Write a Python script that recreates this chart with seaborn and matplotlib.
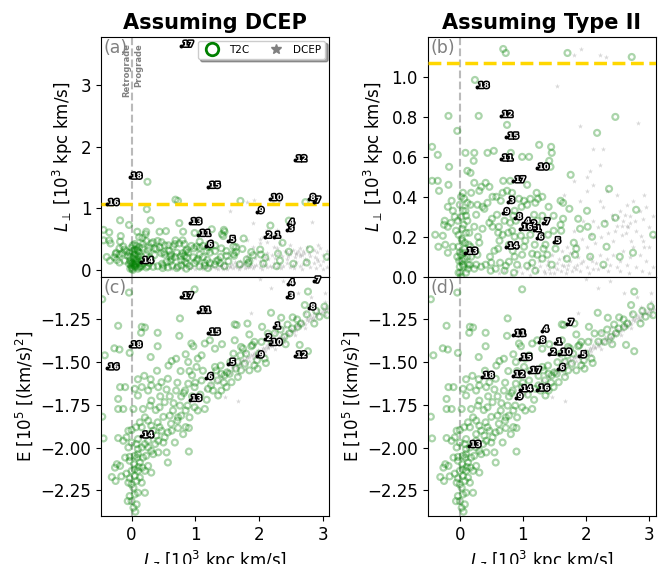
import matplotlib
matplotlib.use("Agg")
import matplotlib.pyplot as plt
import matplotlib.patheffects as pe
from matplotlib.lines import Line2D
import pandas as pd
import seaborn as sns

plt.rcParams["font.family"] = ["DejaVu Sans"]
plt.rcParams["mathtext.fontset"] = "dejavusans"
plt.rcParams["xtick.labelsize"] = 12
plt.rcParams["ytick.labelsize"] = 12
plt.rcParams["axes.labelsize"] = 12

# ---------------- T2C sample: Lz vs L_perp ----------------
t2c_lz_top = [
    0.69, 0.73, 1.71, 2.73, 0.24, -0.18, 0.30, 2.47, -0.04, 0.75,
    2.18, -0.44, -0.35, 1.26, 1.45, 1.46, 0.09, 0.23, 0.44, 0.54,
    0.81, 0.99, 1.10, 1.42, 1.44, 0.22, -0.17, 0.12, 0.17, -0.44,
    -0.35, -0.18, -0.33, 1.76, 2.37, 0.69, 0.80, 1.07, 0.23, 0.34,
    0.41, 0.47, 0.75, 0.83, 0.52, 0.58, 0.94, 0.65, -0.13, 0.02,
    0.07, 0.12, 0.17, 0.28, 0.36, 0.44, 0.68, 1.02, 1.12, 1.22,
    1.24, 1.07, 1.20, 1.31, 1.41, 1.60, 1.64, 1.74, 2.02, 2.80,
    2.47, 1.64, 1.88, 1.60, 1.61, 1.91, 2.03, 2.10, 2.30, 2.33,
    2.75, 3.07, 1.81, 1.85, 1.52, 1.36, 1.33, 1.39, 1.15, 1.19,
    1.02, 0.99, 0.84, 0.78, 0.87, 0.91, 0.78, 0.64, 0.71, 0.50,
    0.48, 0.55, 0.61, 0.63, 0.68, 0.61, 0.77, 0.83, 0.80, 0.87,
    0.87, 1.04, 0.97, 0.85, 0.98, 0.71, 0.59, 0.51, 0.47, 0.36,
    0.29, 0.31, 0.25, 0.17, 0.08, 0.03, -0.02, -0.06, -0.19, -0.25,
    -0.14, -0.08, -0.11, 0.05, 0.10, 0.23, 0.15, -0.02, -0.11, -0.19,
    -0.23, -0.34, -0.39, -0.27, 0.02, -0.01, 0.00, 0.01, 0.05, -0.04,
    0.07, 0.13, 0.18, 0.26, 0.34, 0.41, 0.57, 0.73, 1.07, 1.15,
    1.23, 1.31, 1.46, 1.70, 1.83, 2.07, 2.54, 2.28, 1.20, 0.86,
    0.49, 0.23, 0.13, 0.28, 1.07, 1.12, 1.23, 1.18, 1.31, 1.49,
    1.40, 1.49, 0.39, 0.52, 0.62, 0.89, 0.26, -0.19, -0.24, 0.18,
    0.31, 0.05,
    0.02, 0.06, 0.10, 0.04, 0.08, 0.12, 0.00, 0.06, 0.10, -0.02,
    0.03, 0.14, 0.09, 0.00, 0.12, 0.04, -0.03, 0.16, 0.02, 0.07,
    0.25,
]
t2c_lperp = [
    1.14, 1.12, 1.12, 1.10, 0.985, 0.805, 0.805, 0.80, 0.73, 0.76,
    0.72, 0.65, 0.61, 0.66, 0.65, 0.62, 0.62, 0.62, 0.62, 0.63,
    0.62, 0.60, 0.60, 0.58, 0.55, 0.58, 0.55, 0.53, 0.52, 0.48,
    0.48, 0.46, 0.43, 0.51, 0.44, 0.48, 0.48, 0.46, 0.47, 0.45,
    0.47, 0.45, 0.43, 0.42, 0.40, 0.40, 0.39, 0.38, 0.38, 0.40,
    0.39, 0.37, 0.36, 0.36, 0.35, 0.37, 0.42, 0.38, 0.39, 0.42,
    0.39, 0.36, 0.37, 0.40, 0.35, 0.38, 0.37, 0.34, 0.33, 0.335,
    0.295, 0.29, 0.29, 0.26, 0.23, 0.24, 0.25, 0.20, 0.265, 0.15,
    0.12, 0.21, 0.17, 0.14, 0.14, 0.16, 0.14, 0.11, 0.115, 0.16,
    0.15, 0.11, 0.13, 0.16, 0.10, 0.06, 0.075, 0.07, 0.03, 0.07,
    0.10, 0.13, 0.14, 0.18, 0.21, 0.22, 0.22, 0.23, 0.27, 0.33,
    0.20, 0.18, 0.205, 0.305, 0.35, 0.28, 0.31, 0.29, 0.27, 0.24,
    0.20, 0.17, 0.13, 0.15, 0.17, 0.19, 0.21, 0.23, 0.25, 0.26,
    0.27, 0.30, 0.33, 0.33, 0.305, 0.25, 0.22, 0.15, 0.15, 0.12,
    0.16, 0.15, 0.21, 0.205, 0.11, 0.08, 0.05, 0.02, 0.06, 0.10,
    0.09, 0.06, 0.10, 0.06, 0.05, 0.06, 0.04, 0.055, 0.055, 0.07,
    0.11, 0.09, 0.06, 0.09, 0.11, 0.10, 0.10, 0.06, 0.03, 0.02,
    0.03, 0.04, 0.04, 0.11, 0.25, 0.21, 0.28, 0.31, 0.305, 0.305,
    0.21, 0.23, 0.34, 0.25, 0.25, 0.28, 0.31, 0.35, 0.28, 0.42,
    0.43, 0.42,
    0.30, 0.26, 0.22, 0.18, 0.14, 0.10, 0.12, 0.05, 0.02, 0.02,
    0.08, 0.16, 0.33, 0.36, 0.28, 0.24, 0.28, 0.06, 0.00, 0.12,
    1.43,
]

# ---------------- T2C sample: Lz vs E ----------------
t2c_lz_bot = [
    0.99, -0.04, -0.46, 2.77, 2.19, 2.35, 2.53, 2.72, 3.03, 3.07,
    0.76, 0.16, 0.21, 0.15, -0.21, 0.41, 0.75, 0.94, 0.97, 1.15,
    1.23, 1.31, 1.42, 1.62, 1.65, 1.82, 1.85, 2.05, 2.09, 1.62,
    1.72, -0.27, -0.19, -0.42, -0.03, 0.30, 0.41, 0.63, 0.85, 0.89,
    1.04, 1.10, 1.02, 0.77, 0.91, 0.95, 1.31, 1.33, 1.41, 1.35,
    1.25, 1.28, 1.20, 1.10, 0.99, 0.89, 0.84, 0.78, 0.70, 0.57,
    0.47, 0.42, 0.31, 0.26, 0.16, 0.10, 0.05, -0.10, -0.18, -0.21,
    -0.13, -0.21, -0.46, 0.03, 0.18, 0.29, 0.31, 0.44, 0.52, 0.60,
    0.65, 0.73, 0.76, 0.85, 0.88, 0.99, 1.04, 1.15, 1.36, 1.41,
    1.49, 1.57, 1.67, 1.72, 1.78, 1.85, 1.93, 1.98, 2.11, 1.97,
    1.67, 1.46, 1.54, 1.64, 1.71, 1.80, 1.88, 1.93, 2.04, 2.14,
    2.30, 2.40, 2.42, 2.64, 2.77, 2.61, 2.66, 2.87, 2.95, 2.52,
    2.48, 2.34, 0.41, 0.44, 0.31, 0.26, 0.21, 0.13, 0.07, 0.00,
    -0.05, -0.08, -0.13, -0.21, -0.44, -0.05, 0.00, 0.08, 0.10, 0.16,
    0.21, 0.26, 0.31, 0.42, 0.52, 0.57, 0.63, 0.73, 0.72, 0.78,
    0.91, 0.90, 0.16, 0.26, 0.34, 0.39, 0.47, 0.10, -0.10, -0.03,
    0.05, 0.09, 0.13, 0.18, 0.23, 0.26, 0.31, 0.21, 0.10, 0.05,
    -0.03, 0.00, -0.05, 0.03, 0.08, 0.13, 0.16, 0.05, -0.03, 0.00,
    0.03, 0.06, 0.10, 0.21, -0.06, -0.23, -0.26, -0.31, -0.16, -0.25,
    0.57, 0.55, 0.90, 0.34, 0.42, 0.50, 0.68, 0.81, -0.18, 0.05,
    0.17, 0.00, -0.08, 0.10, 0.26, 0.37, -0.03, 0.04, 0.11, 0.08,
    0.60, 0.66, 0.82, 0.95, 1.08, 1.18, 1.00, 0.72, 0.55, 0.45,
    0.38, 0.50, 0.62, 0.85, 0.30, 0.20, 0.10, 0.40, 0.58, 0.70,
    1.12, 1.25, 1.45, 1.55, 1.60, 1.75, 1.90, 2.00, 2.20, 2.25,
    2.45, 2.60, 2.75, 2.90, 1.40, 1.50,
]
t2c_e = [
    -1.074, -1.093, -1.132, -1.087, -1.211, -1.240, -1.238, -1.166, -1.175, -1.225,
    -1.244, -1.293, -1.297, -1.328, -1.287, -1.328, -1.346, -1.391, -1.407, -1.391,
    -1.372, -1.421, -1.395, -1.279, -1.283, -1.274, -1.338, -1.293, -1.479, -1.372,
    -1.411, -1.419, -1.426, -1.460, -1.446, -1.470, -1.407, -1.493, -1.454, -1.499,
    -1.479, -1.460, -1.528, -1.552, -1.552, -1.577, -1.528, -1.548, -1.568, -1.607,
    -1.636, -1.666, -1.656, -1.607, -1.646, -1.626, -1.666, -1.701, -1.666, -1.597,
    -1.617, -1.646, -1.636, -1.666, -1.646, -1.695, -1.656, -1.646, -1.646, -1.715,
    -1.774, -1.774, -1.819, -1.774, -1.774, -1.754, -1.725, -1.764, -1.734, -1.813,
    -1.783, -1.823, -1.754, -1.783, -1.754, -1.764, -1.783, -1.774, -1.695, -1.666,
    -1.646, -1.617, -1.587, -1.548, -1.509, -1.548, -1.519, -1.538, -1.505, -1.489,
    -1.499, -1.577, -1.568, -1.538, -1.460, -1.450, -1.407, -1.381, -1.381, -1.332,
    -1.381, -1.352, -1.395, -1.399, -1.436, -1.293, -1.274, -1.274, -1.234, -1.303,
    -1.332, -1.309, -1.852, -1.881, -1.872, -1.842, -1.823, -1.852, -1.881, -1.897,
    -1.901, -1.940, -1.960, -1.944, -1.946, -1.999, -1.970, -1.979, -2.009, -1.999,
    -1.979, -1.999, -2.019, -2.028, -1.940, -1.911, -1.901, -1.885, -1.842, -1.813,
    -1.823, -1.885, -1.881, -1.921, -1.901, -1.930, -1.901, -1.950, -2.058, -2.077,
    -2.048, -2.058, -2.087, -2.058, -2.048, -2.107, -2.146, -2.136, -2.136, -2.166,
    -2.179, -2.215, -2.205, -2.234, -2.195, -2.175, -2.205, -2.274, -2.283, -2.313,
    -2.352, -2.375, -2.264, -2.264, -2.313, -2.097, -2.117, -2.172, -2.168, -2.195,
    -2.087, -2.028, -2.023, -2.038, -1.960, -1.970, -1.970, -1.921, -2.107, -2.127,
    -2.117, -2.136, -2.152, -2.038, -1.960, -1.979, -2.054, -2.097, -2.113, -2.332,
    -1.70, -1.74, -1.68, -1.70, -1.69, -1.72, -1.62, -1.62, -1.66, -1.70,
    -1.78, -1.82, -1.86, -1.88, -1.60, -1.58, -1.60, -1.55, -1.52, -1.48,
    -1.55, -1.58, -1.62, -1.50, -1.45, -1.42, -1.40, -1.45, -1.38, -1.33,
    -1.28, -1.25, -1.22, -1.20, -1.52, -1.56,
]

# ---------------- DCEP sample: Lz vs L_perp ----------------
dcep_lz_top = [
    0.62, 0.70, 0.81, 0.91, 0.99, 1.07, 1.12, 1.18, 1.23, 1.28,
    1.33, 1.39, 1.44, 1.49, 1.54, 1.60, 1.65, 1.70, 1.75, 1.81,
    1.86, 1.91, 1.96, 2.02, 2.07, 2.12, 2.17, 2.23, 2.28, 2.33,
    2.38, 2.44, 2.49, 2.54, 2.59, 2.65, 2.70, 2.75, 2.80, 2.86,
    2.91, 2.96, 3.01, 3.07, 1.62, 1.70, 1.78, 1.86, 1.94, 2.02,
    2.09, 2.15, 2.20, 2.25, 2.30, 2.36, 2.41, 2.44, 2.49, 2.54,
    2.57, 2.59, 2.65, 2.67, 2.70, 2.72, 2.75, 2.78, 2.80, 2.86,
    2.88, 2.91, 2.93, 2.96, 3.01, 3.07, 3.09, 2.65, 2.62, 2.51,
    2.46, 2.71, 2.64, 2.58, 2.44, 1.54, 1.91, 2.12, 2.23, 2.02,
    1.81, 2.12, 2.33, 2.49, 2.83, 2.93, 2.07, 2.28, 1.81, 1.92,
    2.22, 2.32, 1.65, 1.91, 2.02, 2.23, 1.96, 1.81, 2.12, 2.28,
    1.35, 1.42, 1.50, 1.55, 1.62, 1.68, 1.72, 1.78, 1.85, 1.92,
    1.40, 1.58, 1.46, 1.65, 1.75, 1.88, 2.05, 2.10, 2.20, 2.35,
    2.55, 2.68, 2.90, 3.00, 1.25, 1.10, 0.95,
]
dcep_lperp = [
    0.02, 0.03, 0.01, 0.03, 0.02, 0.04, 0.01, 0.05, 0.03, 0.055,
    0.03, 0.06, 0.02, 0.05, 0.07, 0.03, 0.055, 0.04, 0.08, 0.05,
    0.06, 0.03, 0.08, 0.05, 0.10, 0.04, 0.07, 0.11, 0.05, 0.09,
    0.06, 0.11, 0.05, 0.08, 0.13, 0.06, 0.10, 0.15, 0.05, 0.11,
    0.18, 0.08, 0.15, 0.05, 0.13, 0.15, 0.12, 0.16, 0.19, 0.15,
    0.21, 0.17, 0.25, 0.20, 0.28, 0.22, 0.31, 0.18, 0.255, 0.33,
    0.21, 0.28, 0.36, 0.25, 0.305, 0.18, 0.38, 0.28, 0.23, 0.33,
    0.205, 0.29, 0.15, 0.35, 0.25, 0.305, 0.20, 0.255, 0.31, 0.30,
    0.23, 0.27, 0.22, 0.255, 0.29, 0.955, 0.755, 0.64, 0.56, 0.50,
    0.48, 0.46, 0.43, 0.41, 0.77, 0.41, 0.53, 0.64, 1.11, 1.14,
    1.11, 1.10, 0.41, 0.38, 0.43, 0.38, 0.28, 0.23, 0.28, 0.35,
    0.02, 0.04, 0.02, 0.04, 0.06, 0.02, 0.06, 0.03, 0.04, 0.07,
    0.08, 0.09, 0.11, 0.10, 0.12, 0.10, 0.02, 0.08, 0.04, 0.03,
    0.03, 0.02, 0.03, 0.02, 0.08, 0.06, 0.05,
]

# ---------------- DCEP sample: Lz vs E ----------------
dcep_lz_bot = [
    1.25, 1.31, 1.36, 1.38, 1.42, 1.46, 1.50, 1.54, 1.57, 1.59,
    1.63, 1.66, 1.70, 1.72, 1.75, 1.79, 1.82, 1.84, 1.87, 1.91,
    1.93, 1.96, 1.99, 2.03, 2.06, 2.09, 2.12, 2.15, 2.18, 2.21,
    2.25, 2.28, 2.31, 2.34, 2.37, 2.40, 2.43, 2.46, 2.50, 2.53,
    2.56, 2.59, 2.62, 2.65, 2.68, 2.72, 2.75, 2.78, 2.81, 2.84,
    2.87, 2.90, 2.93, 2.97, 3.00, 3.03, 3.06, 3.09,
    1.67, 1.78, 1.93, 2.09, 2.25, 2.40, 2.56, 2.72, 2.87, 3.03,
    1.62, 1.78, 1.93, 2.09, 2.25, 2.40, 2.56, 2.72, 2.87, 3.03,
    1.04, 1.15, 2.01, 2.38, 2.19, 2.61, 2.82, 3.03, 1.88, 1.67, 1.46,
    1.60, 1.70, 1.80, 1.90, 2.00, 2.10, 2.20, 2.30, 2.40, 2.50,
    2.60, 2.70, 2.80, 2.90, 3.00, 1.65, 1.75, 1.85, 1.95, 2.05,
    2.15, 2.25, 2.35, 2.45, 2.55, 2.65, 2.75, 2.85, 2.95, 3.05,
]
dcep_e = [
    -1.626, -1.603, -1.617, -1.577, -1.591, -1.568, -1.548, -1.564, -1.528, -1.544,
    -1.513, -1.532, -1.499, -1.519, -1.485, -1.505, -1.470, -1.493, -1.458, -1.474,
    -1.446, -1.462, -1.430, -1.450, -1.415, -1.434, -1.399, -1.419, -1.383, -1.403,
    -1.368, -1.387, -1.352, -1.372, -1.336, -1.356, -1.321, -1.340, -1.305, -1.325,
    -1.289, -1.309, -1.274, -1.293, -1.258, -1.277, -1.242, -1.262, -1.226, -1.246,
    -1.211, -1.230, -1.195, -1.215, -1.183, -1.203, -1.172, -1.191,
    -1.568, -1.538, -1.499, -1.460, -1.421, -1.381, -1.342, -1.303, -1.254, -1.225,
    -1.479, -1.440, -1.401, -1.362, -1.323, -1.293, -1.244, -1.215, -1.175, -1.146,
    -1.685, -1.656, -1.015, -1.023, -1.068, -1.097, -1.117, -1.097, -1.215, -1.725, -1.705,
    -1.53, -1.51, -1.48, -1.46, -1.44, -1.42, -1.40, -1.37, -1.35, -1.32,
    -1.29, -1.27, -1.24, -1.22, -1.20, -1.52, -1.49, -1.47, -1.45, -1.43,
    -1.41, -1.385, -1.36, -1.335, -1.31, -1.28, -1.255, -1.235, -1.21, -1.19,
]

# ---------------- numbered targets ----------------
star_id = list(range(1, 19))

# orbits computed with the classical-Cepheid distance
as_dcep_lz = [2.23, 2.09, 2.44, 2.45, 1.52, 1.17, 2.86, 2.78, 1.97, 2.17,
              1.05, 2.56, 0.91, 0.15, 1.20, -0.39, 0.78, -0.03]
as_dcep_lperp = [0.54, 0.54, 0.65, 0.75, 0.47, 0.39, 1.11, 1.15, 0.94, 1.15,
                 0.57, 1.78, 0.76, 0.13, 1.35, 1.07, 3.64, 1.50]
as_dcep_e = [-1.297, -1.366, -1.12, -1.042, -1.509, -1.593, -1.028, -1.185, -1.466, -1.393,
             -1.205, -1.466, -1.72, -1.934, -1.332, -1.536, -1.12, -1.407]

# orbits computed with the type II Cepheid distance
as_t2_lz_top = [1.18, 1.11, 0.76, 1.01, 1.49, 1.22, 1.32, 0.88, 0.68, 1.22,
                0.65, 0.65, 0.09, 0.74, 0.74, 0.96, 0.85, 0.27]
as_t2_lperp = [0.233, 0.257, 0.375, 0.27, 0.173, 0.192, 0.268, 0.293, 0.318, 0.542,
               0.587, 0.805, 0.12, 0.147, 0.697, 0.24, 0.478, 0.95]
as_t2_lz_bot = [1.51, 1.42, 0.93, 1.30, 1.90, 1.56, 1.70, 1.25, 0.89, 1.58,
                0.85, 0.84, 0.14, 0.96, 0.95, 1.23, 1.10, 0.35]
as_t2_e = [-1.39, -1.45, -1.34, -1.315, -1.465, -1.54, -1.276, -1.38, -1.71, -1.45,
           -1.34, -1.58, -1.99, -1.664, -1.48, -1.66, -1.557, -1.586]

disk_limit = 1.07  # L_perp threshold line

t2c_top = pd.DataFrame({"Lz": t2c_lz_top, "Lperp": t2c_lperp})
t2c_bot = pd.DataFrame({"Lz": t2c_lz_bot, "E": t2c_e})
dcep_top = pd.DataFrame({"Lz": dcep_lz_top, "Lperp": dcep_lperp})
dcep_bot = pd.DataFrame({"Lz": dcep_lz_bot, "E": dcep_e})
targets = {
    "a": pd.DataFrame({"id": star_id, "Lz": as_dcep_lz, "y": as_dcep_lperp}),
    "c": pd.DataFrame({"id": star_id, "Lz": as_dcep_lz, "y": as_dcep_e}),
    "b": pd.DataFrame({"id": star_id, "Lz": as_t2_lz_top, "y": as_t2_lperp}),
    "d": pd.DataFrame({"id": star_id, "Lz": as_t2_lz_bot, "y": as_t2_e}),
}

fig = plt.figure(figsize=(6.67, 5.64), dpi=100)
W = 0.3418
ax_a = fig.add_axes([0.1514, 0.5094, W, 0.4250])
ax_c = fig.add_axes([0.1514, 0.0851, W, 0.4243], sharex=ax_a)
ax_b = fig.add_axes([0.6412, 0.5094, W, 0.4250])
ax_d = fig.add_axes([0.6412, 0.0851, W, 0.4243], sharex=ax_b)


def background(ax, t2c, dcep, ycol):
    sns.scatterplot(data=dcep, x="Lz", y=ycol, ax=ax, marker="*", s=15,
                    color="gray", alpha=0.3, linewidth=0, legend=False, zorder=1)
    sns.scatterplot(data=t2c, x="Lz", y=ycol, ax=ax, marker="o", s=18,
                    color="green", facecolor="none", edgecolor="green",
                    linewidth=1.6, alpha=0.33, legend=False, zorder=2)


def numbered(ax, df):
    sns.scatterplot(data=df, x="Lz", y="y", ax=ax, marker="o", s=8,
                    color="black", linewidth=0, legend=False, zorder=6)
    for _, row in df.iterrows():
        ax.annotate(str(int(row["id"])), (row["Lz"], row["y"]),
                    xytext=(1.2, 1.2), textcoords="offset points",
                    fontsize=5.5, fontweight="bold", color="white",
                    ha="left", va="center", zorder=7,
                    path_effects=[pe.withStroke(linewidth=2.2, foreground="black")])


for ax, key in [(ax_a, "a"), (ax_b, "b")]:
    background(ax, t2c_top, dcep_top, "Lperp")
    ax.axhline(disk_limit, color="gold", ls="--", lw=2.5, zorder=3)
    numbered(ax, targets[key])
for ax, key in [(ax_c, "c"), (ax_d, "d")]:
    background(ax, t2c_bot, dcep_bot, "E")
    numbered(ax, targets[key])

for ax, letter in [(ax_a, "(a)"), (ax_b, "(b)"), (ax_c, "(c)"), (ax_d, "(d)")]:
    ax.axvline(0, color="darkgray", ls="--", lw=1.5, alpha=0.8, zorder=1.5)
    ax.text(0.012, 0.99, letter, transform=ax.transAxes, ha="left", va="top",
            fontsize=12.5, color="gray", zorder=8)

ax_a.set_xlim(-0.48, 3.10)
ax_b.set_xlim(-0.51, 3.11)
ax_a.set_ylim(-0.11, 3.78)
ax_b.set_ylim(0.0, 1.2)
ax_c.set_ylim(-2.4, -1.0)
ax_d.set_ylim(-2.4, -1.0)

ax_a.set_yticks([0, 1, 2, 3])
ax_b.set_yticks([0.0, 0.2, 0.4, 0.6, 0.8, 1.0])
ax_b.set_yticklabels(["0.0", "0.2", "0.4", "0.6", "0.8", "1.0"])
for ax in (ax_c, ax_d):
    ax.set_yticks([-2.25, -2.0, -1.75, -1.5, -1.25])
    ax.set_yticklabels(["\u22122.25", "\u22122.00", "\u22121.75", "\u22121.50", "\u22121.25"])
    ax.set_xticks([0, 1, 2, 3])
    ax.set_xlabel(r"$L_z$ [10$^3$ kpc km/s]")
    ax.set_ylabel(r"E [10$^5$ [(km/s)$^2$]")
for ax in (ax_a, ax_b):
    ax.tick_params(labelbottom=False)
    ax.set_xlabel("")
    ax.set_ylabel(r"$L_\perp$ [10$^3$ kpc km/s]")

ax_a.set_title("Assuming DCEP", fontsize=15, fontweight="bold")
ax_b.set_title("Assuming Type II", fontsize=15, fontweight="bold")

ax_a.text(-0.08, 3.68, "Retrograde", rotation=90, ha="center", va="top",
          fontsize=6, fontweight="bold", color="gray", zorder=8)
ax_a.text(0.115, 3.68, "Prograde", rotation=90, ha="center", va="top",
          fontsize=6, fontweight="bold", color="gray", zorder=8)

handles = [
    Line2D([], [], ls="", marker="o", markerfacecolor="none", markeredgecolor="green",
           markersize=9, markeredgewidth=2, label="T2C"),
    Line2D([], [], ls="", marker="*", color="gray", markersize=7, label="DCEP"),
]
ax_a.legend(handles=handles, loc="upper right", ncol=2, shadow=True, fontsize=7.5,
            borderaxespad=0.35, handletextpad=0.6, columnspacing=1.6)

fig.savefig("out.png", dpi=100)
